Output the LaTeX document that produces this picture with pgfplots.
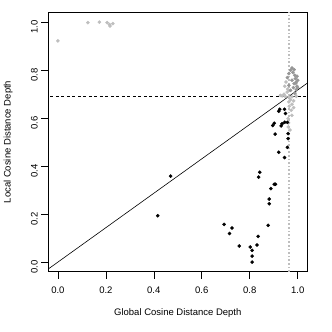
\documentclass[border=0pt]{standalone}
\usepackage{pgfplots}
\pgfplotsset{compat=1.18}
\usepackage{fontspec}
\setmainfont{Liberation Sans}
\definecolor{ltgray}{RGB}{190,190,190}
\definecolor{dkgray}{RGB}{150,150,150}
\begin{document}
\begin{tikzpicture}
\begin{axis}[
  name=ax, at={(0pt,0pt)}, anchor=south west,
  scale only axis, width=259pt, height=259.4pt,
  xmin=-0.04, xmax=1.04, ymin=-0.04, ymax=1.04,
  xtick={0,0.2,...,1.0}, ytick={0,0.2,...,1.0},
  /pgf/number format/assume math mode=true,
  /pgf/number format/fixed,
  /pgf/number format/fixed zerofill,
  /pgf/number format/precision=1,
  tick align=outside, major tick length=7pt,
  xtick pos=bottom, ytick pos=left,
  tick style={black, line width=0.6pt},
  axis line style={line width=0.6pt},
  font=\fontsize{9.5}{11}\selectfont,
  yticklabel style={rotate=90, anchor=south, xshift=-5pt},
  xticklabel style={yshift=-5pt},
  xlabel={Global Cosine Distance Depth},
  ylabel={Local Cosine Distance Depth},
  xlabel style={at={(axis description cs:0.5,-0.16)}, anchor=center},
  ylabel style={at={(axis description cs:-0.155,0.5)}, anchor=center},
  clip=true,
]
\addplot[draw=ltgray, line width=1.6pt, dotted] coordinates {(0.963,-0.1) (0.963,1.1)};
\addplot[black, line width=0.6pt, dash pattern=on 3pt off 2.5pt] coordinates {(-0.1,0.69) (1.1,0.69)};
\addplot[black, line width=0.6pt] coordinates {(-0.1,-0.07165) (1.1,0.78815)};
% light gray points
\addplot[only marks, mark=*, mark size=1.6pt, color=ltgray] coordinates {
(0,0.921) (0.125,0.997) (0.173,0.999) (0.205,0.997) (0.215,0.989) (0.229,0.993) (0.217,0.983)
(0.951,0.75) (0.946,0.732) (0.956,0.708) (0.943,0.699) (0.928,0.694) (0.935,0.692)
(0.948,0.69) (0.963,0.688) (0.976,0.688) (0.994,0.69) (0.970,0.676) (0.983,0.671)
(0.963,0.667) (0.976,0.657) (0.965,0.649) (0.983,0.643) (0.973,0.632) (0.976,0.611)
(0.961,0.5625) (0.960,0.597) (0.958,0.72) (0.99,0.70) (0.968,0.55) (0.962,0.58)
};
% darker gray points
\addplot[only marks, mark=*, mark size=1.6pt, color=dkgray] coordinates {
(0.976,0.808) (0.970,0.799) (0.985,0.801) (0.963,0.785) (0.988,0.778) (0.957,0.768)
(0.976,0.757) (0.990,0.764) (0.994,0.75) (0.985,0.743) (0.997,0.732) (0.982,0.726)
(0.963,0.736) (0.970,0.715) (0.994,0.718) (0.988,0.704) (0.997,0.774) (1.0,0.757)
(0.999,0.726) (0.98,0.79) (0.992,0.745)
};
% black points
\addplot[only marks, mark=*, mark size=1.6pt, color=black] coordinates {
(0.470,0.358) (0.416,0.193) (0.693,0.157) (0.716,0.119) (0.726,0.142) (0.756,0.067)
(0.802,0.0625) (0.810,0.049) (0.810,0.025) (0.810,0.0) (0.830,0.071) (0.835,0.107)
(0.877,0.153) (0.837,0.354) (0.842,0.374) (0.881,0.243) (0.881,0.2625) (0.888,0.306)
(0.902,0.324) (0.907,0.324) (0.921,0.457) (0.945,0.435) (0.957,0.478) (0.960,0.514)
(0.960,0.535) (0.957,0.582) (0.946,0.582) (0.935,0.576) (0.931,0.567) (0.906,0.533)
(0.902,0.578) (0.896,0.569) (0.921,0.628) (0.925,0.636) (0.945,0.636) (0.949,0.619)
};
\end{axis}
\pgfresetboundingbox
\path[use as bounding box] ([xshift=-48.3pt,yshift=-60.3pt]ax.south west) rectangle ([xshift=24.7pt,yshift=12.3pt]ax.north east);
\end{tikzpicture}
\end{document}
